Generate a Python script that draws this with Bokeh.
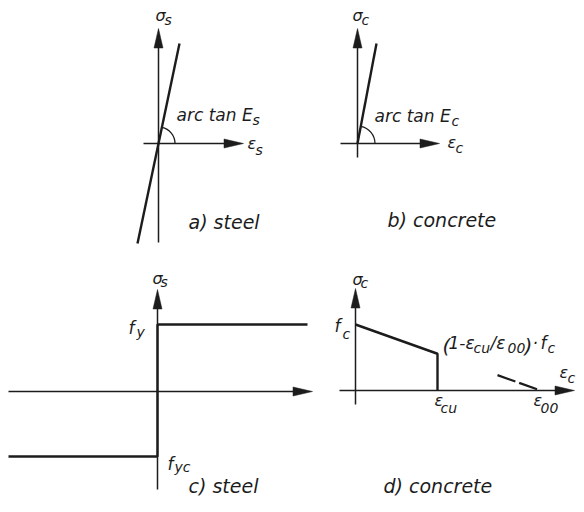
import math
from bokeh.plotting import figure
from bokeh.layouts import column, row
from bokeh.models import Range1d, ColumnDataSource
from bokeh.core.properties import value
from bokeh.embed import file_html
from bokeh.resources import INLINE

# ---------------- data (schematic units) ----------------
# a) steel: linear elastic
steel_eps = [-2.1, 2.1]
steel_sig = [-10.0, 10.0]
# b) concrete: linear elastic
conc_eps = [0.0, 1.9]
conc_sig = [0.0, 10.0]
# c) steel: rigid-plastic
f_y = 6.7
f_yc = -6.5
c_eps = [-14.9, 0.0, 0.0, 15.0]
c_sig = [f_yc, f_yc, f_y, f_y]
# d) concrete: linear softening, cut off at eps_cu
f_c = 6.6
eps_cu = 8.2
eps_00 = 18.5
eps_dash = 14.2
d_eps = [0.0, eps_cu, eps_cu]
d_sig = [f_c, f_c * (1 - eps_cu / eps_00), 0.0]
dash_eps = [eps_dash, eps_00]
dash_sig = [f_c * (1 - eps_dash / eps_00), 0.0]

# axis extents (strain axis, stress axis)
a_xaxis, a_yaxis = [-1.5, 8.5], [-9.9, 11.5]
b_xaxis, b_yaxis = [-1.7, 8.2], [-1.4, 11.5]
c_xaxis, c_yaxis = [-14.9, 15.5], [-9.8, 10.2]
d_xaxis, d_yaxis = [-1.6, 21.9], [-1.4, 10.2]

INK = "#1c1c1c"
FONT = value("DejaVu Sans")


def panel(w, h, xr, yr):
    p = figure(width=w, height=h, x_range=Range1d(*xr), y_range=Range1d(*yr),
               output_backend="svg", toolbar_location=None,
               x_axis_location=None, y_axis_location=None, min_border=0)
    p.outline_line_color = None
    p.xgrid.visible = False
    p.ygrid.visible = False
    p.background_fill_color = "white"
    p.border_fill_color = "white"
    return p


def arrow(p, x0, y0, x1, y1, hl=1.95, hw=0.45, lw=1.5):
    L = math.hypot(x1 - x0, y1 - y0)
    ux, uy = (x1 - x0) / L, (y1 - y0) / L
    bx, by = x1 - ux * hl, y1 - uy * hl
    p.line([x0, bx + ux * 0.3], [y0, by + uy * 0.3], line_width=lw, line_color=INK)
    p.patch([x1, bx - uy * hw, bx + uy * hw], [y1, by + ux * hw, by - ux * hw],
            fill_color=INK, line_color=INK, line_width=0.5)


def axes(p, xa, ya):
    arrow(p, xa[0], 0.0, xa[1], 0.0)
    arrow(p, 0.0, ya[0], 0.0, ya[1])


def texts(p, items):
    src = ColumnDataSource(dict(
        x=[t[1] for t in items], y=[t[2] for t in items],
        text=[t[0] for t in items], size=["%dpx" % t[3] for t in items]))
    p.text(x="x", y="y", text="text", source=src, text_font=FONT,
           text_font_style="italic", text_font_size="size", text_color=INK,
           text_align="left", text_baseline="alphabetic", y_offset=-6)


# ---------------- a) steel ----------------
pa = panel(292, 256, (-15.8, 13.4), (-11.3, 14.3))
axes(pa, a_xaxis, a_yaxis)
pa.line(steel_eps, steel_sig, line_width=2.4, line_color=INK)
pa.arc(x=[0], y=[0], radius=1.65, start_angle=0,
       end_angle=math.atan2(steel_sig[1], steel_eps[1]), line_width=1.3, line_color=INK)
texts(pa, [("σ", -0.3, 12.2, 16), ("s", 0.6, 11.8, 14),
           ("arc tan E", 1.8, 2.3, 17), ("s", 9.4, 1.8, 14),
           ("ε", 8.9, -0.6, 16), ("s", 9.7, -1.2, 14),
           ("a) steel", 3.0, -8.4, 19)])

# ---------------- b) concrete ----------------
pb = panel(284, 256, (-6.5, 21.9), (-11.3, 14.3))
axes(pb, b_xaxis, b_yaxis)
pb.line(conc_eps, conc_sig, line_width=2.4, line_color=INK)
pb.arc(x=[0], y=[0], radius=1.75, start_angle=0,
       end_angle=math.atan2(conc_sig[1], conc_eps[1]), line_width=1.3, line_color=INK)
texts(pb, [("σ", -0.5, 12.2, 16), ("c", 0.4, 11.8, 14),
           ("arc tan E", 1.7, 2.2, 17), ("c", 9.4, 1.7, 14),
           ("ε", 9.0, -0.5, 16), ("c", 9.8, -1.0, 14),
           ("b) concrete", 3.0, -8.2, 19)])

# ---------------- c) steel ----------------
pc = panel(318, 240, (-15.7, 16.1), (-10.5, 13.5))
axes(pc, c_xaxis, c_yaxis)
pc.line(c_eps, c_sig, line_width=2.4, line_color=INK)
texts(pc, [("σ", -0.5, 10.7, 16), ("s", 0.3, 10.4, 14),
           ("f", -2.9, 5.8, 17), ("y", -2.1, 5.4, 14),
           ("f", 1.0, -7.8, 17), ("yc", 1.7, -8.1, 14),
           ("c) steel", 3.1, -10.0, 19)])

# ---------------- d) concrete ----------------
pd = panel(258, 240, (-3.7, 22.1), (-10.6, 13.4))
axes(pd, d_xaxis, d_yaxis)
pd.line(d_eps, d_sig, line_width=2.4, line_color=INK)
pd.line(dash_eps, dash_sig, line_width=2.2, line_color=INK, line_dash="19 4")
texts(pd, [("σ", -0.3, 10.5, 16), ("c", 0.5, 10.2, 14),
           ("f", -2.1, 5.9, 17), ("c", -1.3, 5.1, 14),
           ("ε", 7.9, -1.6, 16), ("cu", 8.5, -2.3, 14),
           ("ε", 17.8, -1.6, 16), ("00", 18.5, -2.3, 14),
           ("ε", 20.4, 1.2, 16), ("c", 21.2, 0.7, 14),
           ("(", 8.7, 3.9, 20), ("1-ε", 9.3, 4.2, 17), ("cu", 11.8, 3.7, 14),
           ("/ε", 13.5, 4.2, 17), ("00", 15.2, 3.7, 14), (")", 16.9, 3.9, 20),
           ("·", 17.7, 4.2, 17), ("f", 18.5, 4.2, 17), ("c", 19.2, 3.7, 14),
           ("d) concrete", 2.8, -10.1, 19)])

layout = column(row(pa, pb), row(pc, pd))
open("out.html", "w").write(file_html(layout, INLINE))
